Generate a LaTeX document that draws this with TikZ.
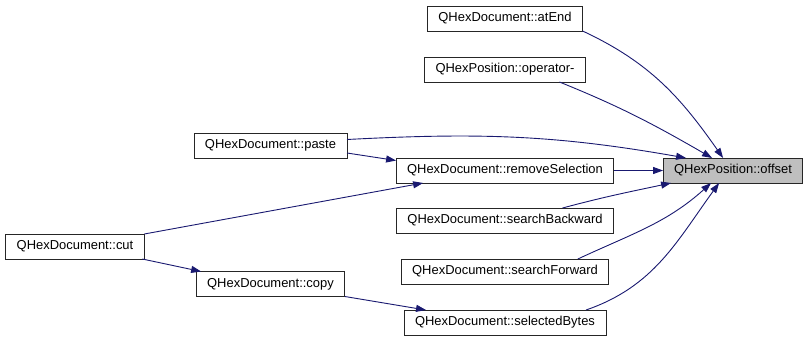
\documentclass[tikz,border=0pt]{standalone}
\usepackage{fontspec}
\setmainfont{Liberation Sans}
\usepackage{tikz}
\usepackage{xcolor}
\usetikzlibrary{arrows.meta,positioning}

\definecolor{edgeblue}{HTML}{191970}
\definecolor{focusgrey}{HTML}{BFBFBF}

\begin{document}
\begin{tikzpicture}[
    x=1bp, y=1bp,
    font=\fontsize{13}{15}\selectfont,
    node distance=26bp,
    fn/.style={draw=black!85, line width=0.9bp, fill=white, inner xsep=11bp, inner ysep=0pt, minimum height=25bp, outer sep=0pt},
    focus/.style={fn, fill=focusgrey},
    arr/.style={-{Triangle[length=10bp,width=7bp]}, draw=edgeblue, line width=0.9bp}
]
\useasboundingbox (0,0) rectangle (809,-341);

\node[fn] (sel) at (505,-170.5) {QHexDocument::removeSelection};
\node[fn, above=76bp of sel] (opminus) {QHexPosition::operator-};
\node[fn, above=of opminus] (atend) {QHexDocument::atEnd};
\node[fn, below=25bp of sel] (sbw) {QHexDocument::searchBackward};
\node[fn, below=of sbw] (sfw) {QHexDocument::searchForward};
\node[fn, below=of sfw] (sbytes) {QHexDocument::selectedBytes};
\node[focus] (offset) at (733,-170.5) {QHexPosition::offset};
\node[fn] (paste) at (270.5,-145.5) {QHexDocument::paste};
\node[fn] (cut) at (75,-246.5) {QHexDocument::cut};
\node[fn] (copy) at (270.5,-284) {QHexDocument::copy};

\draw[arr] (atend.south east) to[out=-25, in=125] ([xshift=60bp]offset.north west);
\draw[arr] ([xshift=-26bp]opminus.south east) to[out=-22, in=150] ([xshift=49bp]offset.north west);
\draw[arr] ([yshift=6bp]paste.east) to[out=3, in=170] ([xshift=23bp]offset.north west);
\draw[arr] ([yshift=-7.5bp]paste.east) -- ([yshift=10bp]sel.west);
\draw[arr] (sel) -- (offset);
\draw[arr] (cut.north east) -- ([xshift=27bp]sel.south west);
\draw[arr] ([xshift=-51bp]sbw.north east) to[out=15, in=192] ([xshift=8bp]offset.south west);
\draw[arr] ([xshift=-31bp]sfw.north east) to[out=25, in=222] ([xshift=48bp]offset.south west);
\draw[arr] ([xshift=-20bp]sbytes.north east) to[out=19, in=234] ([xshift=56bp]offset.south west);
\draw[arr] ([xshift=-2bp]cut.south east) -- ([xshift=5bp]copy.north west);
\draw[arr] (copy.south east) -- ([xshift=22bp]sbytes.north west);
\end{tikzpicture}
\end{document}
